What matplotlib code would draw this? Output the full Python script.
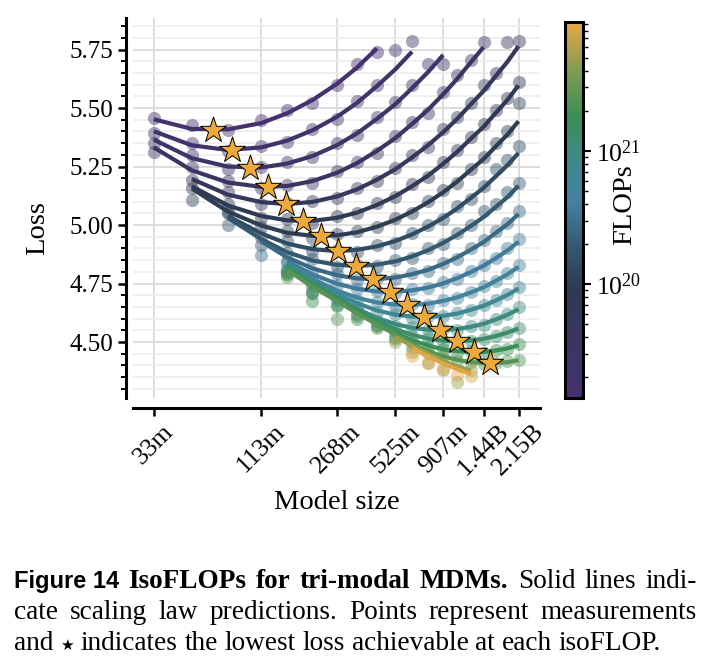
import matplotlib
matplotlib.use('Agg')
import matplotlib.pyplot as plt
from matplotlib.colors import LinearSegmentedColormap, LogNorm
from matplotlib.cm import ScalarMappable
from matplotlib.ticker import FixedLocator, FixedFormatter, MultipleLocator, NullLocator, NullFormatter

plt.rcParams['font.family'] = ['Liberation Serif', 'DejaVu Serif']
plt.rcParams['mathtext.fontset'] = 'stix'

# model sizes (millions) of the measured columns
sizes_m = [33, 51, 77, 113, 152, 203, 268, 337, 425, 525, 635, 765, 907,
           1065, 1245, 1440, 1660, 1890, 2150]
tick_sizes = [33, 113, 268, 525, 907, 1440, 2150]
tick_labels = ['33m', '113m', '268m', '525m', '907m', '1.44B', '2.15B']

# one entry per isoFLOP budget
flops = [1.5e19, 2.1e19, 2.8e19, 3.9e19, 5.4e19, 7.4e19, 1.0e20, 1.4e20, 1.9e20,
         2.7e20, 3.7e20, 5.1e20, 7.0e20, 9.6e20, 1.3e21, 1.8e21, 2.5e21, 5.0e21, 8.5e21]
start_col = [0, 0, 0, 0, 1, 1, 1, 2, 2, 3, 4, 4, 4, 4, 4, 4, 4, 9, 10]

line_loss = [
    [5.452, 5.411, 5.409, 5.436, 5.478, 5.534, 5.603, 5.672, 5.755],
    [5.401, 5.341, 5.321, 5.332, 5.361, 5.405, 5.462, 5.521, 5.594, 5.666, 5.741],
    [5.365, 5.286, 5.250, 5.246, 5.263, 5.295, 5.341, 5.391, 5.454, 5.517, 5.585, 5.655, 5.727],
    [5.332, 5.234, 5.182, 5.163, 5.167, 5.188, 5.223, 5.264, 5.317, 5.372, 5.432, 5.494, 5.559, 5.625, 5.696, 5.760],
    [5.197, 5.130, 5.098, 5.090, 5.099, 5.122, 5.152, 5.194, 5.239, 5.289, 5.342, 5.397, 5.454, 5.516, 5.573, 5.638, 5.697, 5.764],
    [5.166, 5.084, 5.039, 5.020, 5.018, 5.031, 5.053, 5.086, 5.124, 5.166, 5.212, 5.262, 5.313, 5.369, 5.420, 5.480, 5.534, 5.597],
    [5.156, 5.058, 4.998, 4.967, 4.954, 4.956, 4.969, 4.993, 5.023, 5.058, 5.098, 5.140, 5.186, 5.236, 5.282, 5.337, 5.386, 5.444],
    [5.039, 4.964, 4.921, 4.897, 4.889, 4.894, 4.909, 4.932, 4.960, 4.994, 5.031, 5.071, 5.116, 5.159, 5.209, 5.255, 5.308],
    [5.031, 4.940, 4.884, 4.849, 4.830, 4.825, 4.831, 4.845, 4.866, 4.893, 4.924, 4.958, 4.996, 5.034, 5.078, 5.119, 5.168],
    [4.930, 4.862, 4.815, 4.786, 4.772, 4.769, 4.776, 4.790, 4.809, 4.834, 4.862, 4.895, 4.927, 4.967, 5.003, 5.047],
    [4.846, 4.789, 4.750, 4.728, 4.716, 4.715, 4.721, 4.733, 4.751, 4.773, 4.799, 4.826, 4.859, 4.891, 4.929],
    [4.840, 4.771, 4.721, 4.690, 4.669, 4.660, 4.659, 4.664, 4.676, 4.691, 4.712, 4.734, 4.762, 4.789, 4.822],
    [4.834, 4.762, 4.707, 4.667, 4.635, 4.617, 4.609, 4.607, 4.612, 4.622, 4.638, 4.655, 4.678, 4.701, 4.729],
    [4.828, 4.755, 4.694, 4.644, 4.603, 4.577, 4.561, 4.553, 4.551, 4.556, 4.565, 4.578, 4.597, 4.616, 4.641],
    [4.822, 4.748, 4.688, 4.636, 4.590, 4.555, 4.531, 4.515, 4.506, 4.504, 4.507, 4.514, 4.526, 4.540, 4.558],
    [4.815, 4.742, 4.682, 4.630, 4.582, 4.540, 4.508, 4.485, 4.469, 4.461, 4.457, 4.458, 4.464, 4.473, 4.486],
    [4.808, 4.736, 4.676, 4.624, 4.575, 4.533, 4.491, 4.461, 4.439, 4.424, 4.414, 4.411, 4.411, 4.414, 4.422],
    [4.522, 4.484, 4.450, 4.420, 4.397, 4.378],
    [4.474, 4.438, 4.408, 4.384, 4.364],
]

meas_loss = [
    [5.457, 5.427, 5.405, 5.448, 5.490, 5.522, 5.598, 5.690, 5.739],
    [5.393, 5.352, 5.318, 5.340, 5.355, 5.410, 5.455, 5.530, 5.600, 5.748, 5.785],
    [5.350, 5.300, 5.240, 5.250, 5.270, 5.290, 5.350, 5.385, 5.460, 5.525, 5.600, 5.690, 5.690],
    [5.312, 5.248, 5.190, 5.160, 5.172, 5.180, 5.230, 5.270, 5.310, 5.380, 5.440, 5.480, 5.570, 5.640, 5.705, 5.782],
    [5.192, 5.140, 5.090, 5.095, 5.105, 5.115, 5.160, 5.190, 5.245, 5.300, 5.335, 5.410, 5.460, 5.520, 5.600, 5.650, 5.782, 5.785],
    [5.158, 5.090, 5.030, 5.025, 5.010, 5.040, 5.050, 5.095, 5.120, 5.175, 5.205, 5.270, 5.320, 5.375, 5.430, 5.490, 5.545, 5.610],
    [5.107, 5.050, 4.990, 4.975, 4.945, 4.960, 4.975, 4.990, 5.030, 5.050, 5.105, 5.150, 5.180, 5.240, 5.290, 5.350, 5.400, 5.520],
    [5.056, 4.950, 4.930, 4.890, 4.895, 4.885, 4.915, 4.925, 4.965, 5.000, 5.025, 5.080, 5.110, 5.165, 5.240, 5.280, 5.340],
    [5.000, 4.915, 4.880, 4.855, 4.820, 4.830, 4.825, 4.850, 4.860, 4.900, 4.920, 4.965, 5.000, 5.060, 5.090, 5.140, 5.180],
    [4.872, 4.842, 4.800, 4.790, 4.765, 4.775, 4.770, 4.795, 4.805, 4.840, 4.855, 4.900, 4.935, 4.975, 5.010, 5.060],
    [4.810, 4.760, 4.745, 4.725, 4.720, 4.710, 4.725, 4.730, 4.755, 4.770, 4.805, 4.830, 4.860, 4.900, 4.940],
    [4.790, 4.710, 4.700, 4.680, 4.672, 4.655, 4.662, 4.660, 4.680, 4.690, 4.715, 4.740, 4.760, 4.795, 4.830],
    [4.842, 4.752, 4.690, 4.650, 4.630, 4.620, 4.605, 4.610, 4.610, 4.625, 4.635, 4.660, 4.680, 4.705, 4.735],
    [4.808, 4.740, 4.680, 4.640, 4.590, 4.570, 4.565, 4.550, 4.555, 4.550, 4.570, 4.575, 4.600, 4.620, 4.650],
    [4.800, 4.710, 4.660, 4.620, 4.575, 4.545, 4.525, 4.518, 4.500, 4.505, 4.505, 4.515, 4.525, 4.545, 4.560],
    [4.790, 4.675, 4.655, 4.600, 4.570, 4.520, 4.500, 4.480, 4.470, 4.455, 4.460, 4.455, 4.465, 4.470, 4.490],
    [4.780, 4.720, 4.600, 4.610, 4.560, 4.515, 4.480, 4.455, 4.440, 4.420, 4.415, 4.408, 4.412, 4.418, 4.425],
    [4.500, 4.457, 4.410, 4.380, 4.329, 4.380],
    [4.440, 4.410, 4.385, 4.360, 4.355],
]

# lowest predicted loss of each budget
star_size_m = [64.9, 80.7, 99.2, 121.9, 149.9, 182.1, 223.8, 271.9, 334, 406,
               493, 599, 729, 875, 1063, 1291, 1551]
star_loss = [5.406, 5.321, 5.244, 5.162, 5.090, 5.017, 4.953, 4.889, 4.825,
             4.769, 4.714, 4.658, 4.607, 4.551, 4.504, 4.457, 4.410]

cmap = LinearSegmentedColormap.from_list('isoflop', [
    (0.00, '#45316f'), (0.15, '#3b3563'), (0.29, '#2c3b50'), (0.40, '#33586f'),
    (0.52, '#4580a2'), (0.62, '#3f888e'), (0.75, '#3a8f55'), (0.87, '#809b52'),
    (1.00, '#e8a846')])
norm = LogNorm(vmin=1.4e19, vmax=9.3e21)

fig = plt.figure(figsize=(7.12, 6.72), dpi=100)
ax = fig.add_axes([133 / 712, 1 - 398 / 672, 407 / 712, 380 / 672])

for i in range(len(flops)):
    col = cmap(norm(flops[i]))
    s = start_col[i]
    ax.scatter(sizes_m[s:s + len(meas_loss[i])], meas_loss[i], s=90, color=col,
               alpha=0.45, linewidths=0, zorder=2)
    ax.plot(sizes_m[s:s + len(line_loss[i])], line_loss[i], color=col, lw=3,
            solid_capstyle='butt', zorder=3)

ax.scatter(star_size_m, star_loss, marker='*', s=380, color='#eea93b',
           edgecolors='black', linewidths=0.7, zorder=5)

ax.set_xscale('log')
ax.set_xlim(26, 2750)
ax.set_ylim(4.261, 5.885)
ax.xaxis.set_major_locator(FixedLocator(tick_sizes))
ax.xaxis.set_major_formatter(FixedFormatter(tick_labels))
ax.xaxis.set_minor_locator(NullLocator())
ax.xaxis.set_minor_formatter(NullFormatter())
ax.yaxis.set_major_locator(MultipleLocator(0.25))
ax.yaxis.set_minor_locator(MultipleLocator(0.05))
ax.yaxis.set_major_formatter(plt.FormatStrFormatter('%.2f'))
ax.tick_params(axis='x', labelrotation=45, labelsize=18.5, pad=3)
ax.tick_params(axis='y', labelsize=18)

ax.grid(True, which='major', color='#dadada', lw=1.3, zorder=0)
ax.grid(True, which='minor', axis='y', color='#ececec', lw=1.1, zorder=0)
ax.set_axisbelow(True)

for side in ['top', 'right']:
    ax.spines[side].set_visible(False)
ax.spines['left'].set_position(('outward', 5))
ax.spines['bottom'].set_position(('outward', 7))
ax.spines['left'].set_linewidth(2.2)
ax.spines['bottom'].set_linewidth(2.2)
ax.tick_params(which='major', length=6, width=1.8)
ax.tick_params(which='minor', length=3.5, width=1.4)

ax.set_xlabel('Model size', fontsize=20.5)
ax.xaxis.set_label_coords(0.5, -0.242)
ax.set_ylabel('Loss', fontsize=20.5)
ax.yaxis.set_label_coords(-0.204, 0.447)

cax = fig.add_axes([565 / 712, 1 - 398 / 672, 18 / 712, 376 / 672])
cb = fig.colorbar(ScalarMappable(norm=norm, cmap=cmap), cax=cax)
cb.outline.set_linewidth(2.2)
cb.ax.tick_params(which='major', length=6, width=1.5, labelsize=18.5)
cb.ax.tick_params(which='minor', length=3.5, width=1.0)
cb.set_label('FLOPs', fontsize=20.5)
cb.ax.yaxis.set_label_coords(2.62, 0.513)

# caption, justified like the paper text
renderer = fig.canvas.get_renderer()
bold_sans = dict(family='Liberation Sans', weight='bold', size=17)
bold_serif = dict(weight='bold', size=19.6)
reg = dict(size=19.6)
star_font = dict(family=['DejaVu Sans'], size=11)

lines = [
    ([('Figure 14', bold_sans), ('IsoFLOPs', bold_serif), ('for', bold_serif),
      ('tri-modal', bold_serif), ('MDMs.', bold_serif), ('Solid', reg),
      ('lines', reg), ('indi-', reg)], 588, True),
    ([(w, reg) for w in 'cate scaling law predictions. Points represent measurements'.split()],
     619, True),
    ([('and', reg), ('\u2605', star_font)] +
     [(w, reg) for w in 'indicates the lowest loss achievable at each isoFLOP.'.split()],
     650, False),
]
x0, x1 = 14, 697
for words, ypix, justify in lines:
    texts = [fig.text(0, 1 - ypix / 672, w, va='baseline', ha='left', **kw)
             for w, kw in words]
    widths = [t.get_window_extent(renderer).width for t in texts]
    if justify:
        gap = (x1 - x0 - sum(widths)) / (len(texts) - 1)
    else:
        gap = 6.8
    x = x0
    for t, w in zip(texts, widths):
        t.set_x(x / 712)
        x += w + gap

fig.savefig('out.png', dpi=100)
